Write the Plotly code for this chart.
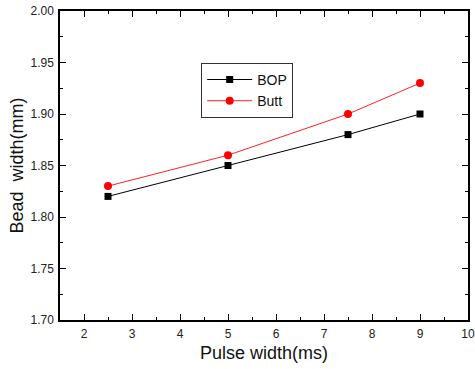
import plotly.graph_objects as go

pulse = [2.5, 5, 7.5, 9]
bop = [1.82, 1.85, 1.88, 1.90]
butt = [1.83, 1.86, 1.90, 1.93]

fig = go.Figure()
fig.add_trace(go.Scatter(x=pulse, y=bop, name="BOP", mode="lines+markers",
                         line=dict(color="black", width=1),
                         marker=dict(symbol="square", size=7, color="black")))
fig.add_trace(go.Scatter(x=pulse, y=butt, name="Butt", mode="lines+markers",
                         line=dict(color="#ff2020", width=1),
                         marker=dict(symbol="circle", size=8, color="#ff0000")))

axis_common = dict(showgrid=False, zeroline=False, showline=True, linecolor="black",
                   linewidth=1.5, ticks="inside", ticklen=6, tickcolor="black",
                   mirror="allticks", tickfont=dict(size=12, color="#222"),
                   automargin=False)

fig.update_xaxes(range=[1.5, 10], tickmode="linear", tick0=2, dtick=1,
                 minor=dict(ticks="inside", ticklen=3, dtick=0.5, tick0=1.5, tickcolor="black"),
                 ticklabelstandoff=2,
                 title=dict(text="Pulse width(ms)", font=dict(size=18, color="#111"), standoff=6),
                 **axis_common)
fig.update_yaxes(range=[1.70, 2.00], tickmode="linear", tick0=1.70, dtick=0.05,
                 tickformat=".2f", ticklabelstandoff=2,
                 minor=dict(ticks="inside", ticklen=3, dtick=0.025, tick0=1.70, tickcolor="black"),
                 title=dict(text="Bead&nbsp; width(mm)", font=dict(size=18, color="#111"), standoff=2),
                 **axis_common)

fig.update_layout(
    width=475, height=369,
    margin=dict(l=60, r=7, t=11, b=49),
    paper_bgcolor="white", plot_bgcolor="white",
    font=dict(family="Liberation Sans, Arial, sans-serif"),
    showlegend=True,
    legend=dict(x=0.346, y=0.832, xanchor="left", yanchor="top",
                bordercolor="#333", borderwidth=1, bgcolor="white",
                font=dict(size=14, color="#111"), tracegroupgap=0,
                itemwidth=45),
)

fig.write_html("out.html", config={"displayModeBar": False},
               post_script="document.body.style.margin='0';document.body.style.overflow='hidden';")
